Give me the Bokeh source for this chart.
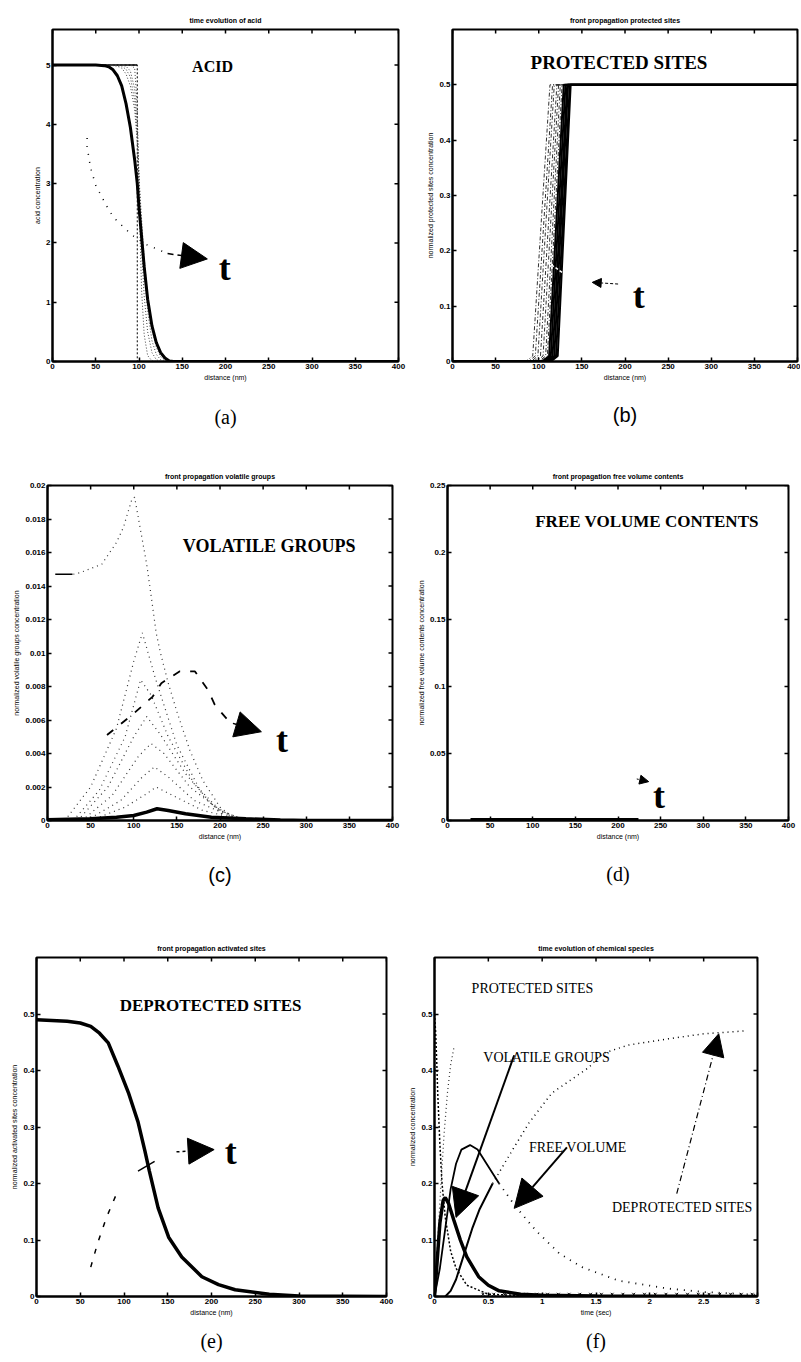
import math
from bokeh.plotting import figure
from bokeh.layouts import row, column
from bokeh.models import Label, Arrow, NormalHead, FixedTicker, Range1d, Title
from bokeh.embed import file_html
from bokeh.resources import INLINE

# ---------------- data ----------------
dist_ticks = [0, 50, 100, 150, 200, 250, 300, 350, 400]
dist_labels = ["0", "50", "100", "150", "200", "250", "300", "350", "400"]
time_ticks = [0, 0.5, 1, 1.5, 2, 2.5, 3]
time_labels = ["0", "0.5", "1", "1.5", "2", "2.5", "3"]

# (a) acid
a_yticks = [0, 1, 2, 3, 4, 5]
a_ylabels = ["0", "1", "2", "3", "4", "5"]
a_step_x = [0, 98, 98, 400]
a_step_y = [5, 5, 0, 0]
a_x = [0, 50, 60, 65, 70, 75, 80, 85, 90, 95, 98, 100, 103, 106, 110, 115, 120, 125, 130, 135, 140, 400]
a_t1 = [5, 5, 5, 5, 5, 5, 5, 5, 5, 4.95, 4.3, 2.8, 1.2, 0.45, 0.1, 0.01, 0, 0, 0, 0, 0, 0]
a_t2 = [5, 5, 5, 5, 5, 5, 5, 4.98, 4.9, 4.6, 4.0, 3.1, 1.9, 1.1, 0.5, 0.15, 0.03, 0, 0, 0, 0, 0]
a_t3 = [5, 5, 5, 5, 5, 4.99, 4.98, 4.93, 4.8, 4.4, 3.8, 3.1, 2.2, 1.5, 0.85, 0.35, 0.12, 0.03, 0, 0, 0, 0]
a_t4 = [5, 5, 5, 5, 4.99, 4.98, 4.95, 4.85, 4.65, 4.25, 3.7, 3.1, 2.4, 1.75, 1.1, 0.55, 0.24, 0.08, 0.02, 0, 0, 0]
a_final = [5, 5, 4.99, 4.97, 4.92, 4.82, 4.65, 4.35, 3.95, 3.4, 3.0, 2.6, 2.1, 1.6, 1.05, 0.6, 0.32, 0.15, 0.06, 0.01, 0, 0]
a_arr_x = [40, 40, 44, 50, 66, 74, 92, 109, 133]
a_arr_y = [3.77, 3.62, 3.27, 2.97, 2.53, 2.38, 2.13, 1.97, 1.82]

# (b) protected sites: each front rises from 0 at b_start to 0.5 at b_end
b_yticks = [0, 0.1, 0.2, 0.3, 0.4, 0.5]
b_ylabels = ["0", "0.1", "0.2", "0.3", "0.4", "0.5"]
b_low, b_high = 0.0, 0.5
b_start = [93, 96, 99, 102, 105, 108, 110, 112, 114, 116, 118, 120, 122]
b_end = [113, 116, 118, 121, 123, 125, 127, 129, 131, 133, 134, 136, 137]

# (c) volatile groups
c_yticks = [0, 0.002, 0.004, 0.006, 0.008, 0.01, 0.012, 0.014, 0.016, 0.018, 0.02]
c_ylabels = ["0", "0.002", "0.004", "0.006", "0.008", "0.01", "0.012", "0.014", "0.016", "0.018", "0.02"]
c_curves = [
    ([30, 38, 63, 80, 88, 98, 101, 115, 121, 126, 131, 140, 150, 165, 180, 200, 220],
     [0.0147, 0.0148, 0.0153, 0.0166, 0.0175, 0.0192, 0.0193, 0.0153, 0.0131, 0.0112, 0.0100, 0.0082, 0.0065, 0.0042, 0.0024, 0.0008, 0.0]),
    ([20, 50, 80, 100, 110, 125, 150, 180, 210],
     [0, 0.002, 0.0055, 0.0095, 0.0112, 0.0085, 0.0045, 0.0015, 0]),
    ([30, 60, 90, 108, 120, 140, 170, 200, 230],
     [0, 0.0018, 0.0050, 0.0084, 0.0075, 0.0050, 0.0022, 0.0006, 0]),
    ([35, 70, 100, 115, 130, 160, 190, 220],
     [0, 0.0020, 0.0050, 0.0062, 0.0052, 0.0028, 0.0010, 0]),
    ([40, 75, 105, 120, 135, 165, 200, 230],
     [0, 0.0015, 0.0038, 0.0046, 0.0040, 0.0020, 0.0006, 0]),
    ([45, 85, 110, 124, 140, 170, 210, 240],
     [0, 0.0012, 0.0026, 0.0032, 0.0026, 0.0012, 0.0003, 0]),
    ([50, 90, 115, 126, 145, 180, 220, 250],
     [0, 0.0008, 0.0016, 0.0020, 0.0015, 0.0006, 0.0001, 0]),
]
c_seg_x = [9, 29]
c_seg_y = [0.0147, 0.0147]
c_final_x = [0, 50, 80, 100, 115, 127, 140, 160, 190, 230, 270, 300, 400]
c_final_y = [0.00005, 0.0001, 0.0002, 0.0003, 0.0005, 0.0007, 0.0006, 0.0004, 0.0002, 0.0001, 0.00003, 0, 0]
c_arr_x = [69, 98, 122, 132, 153, 171, 186, 194, 209, 215]
c_arr_y = [0.0051, 0.0063, 0.0074, 0.0082, 0.0089, 0.0089, 0.0078, 0.0069, 0.0060, 0.0058]

# (d) free volume contents
d_yticks = [0, 0.05, 0.1, 0.15, 0.2, 0.25]
d_ylabels = ["0", "0.05", "0.1", "0.15", "0.2", "0.25"]
d_x = [27, 224]
d_y = [0.0008, 0.0008]

# (e) deprotected (activated) sites
e_x = [0, 35, 50, 62, 72, 82, 93, 105, 116, 124, 129, 139, 151, 166, 189, 208, 227, 266, 300, 400]
e_y = [0.49, 0.487, 0.484, 0.478, 0.466, 0.449, 0.408, 0.361, 0.309, 0.257, 0.222, 0.157, 0.105,
       0.07, 0.035, 0.021, 0.012, 0.004, 0.001, 0.0]
e_arr_x = [62, 70, 80, 91]
e_arr_y = [0.052, 0.095, 0.14, 0.18]

# (f) time evolution of chemical species
f_prot_t = [0, 0.01, 0.02, 0.03, 0.05, 0.07, 0.1, 0.15, 0.2, 0.3, 0.5, 1, 3]
f_prot_y = [0.5, 0.47, 0.42, 0.36, 0.27, 0.2, 0.14, 0.08, 0.05, 0.02, 0.004, 0, 0]
f_rise_t = [0, 0.03, 0.06, 0.09, 0.12, 0.15, 0.18]
f_rise_y = [0, 0.1, 0.2, 0.29, 0.36, 0.41, 0.44]
f_dep_t = [0.1, 0.15, 0.2, 0.25, 0.3, 0.35, 0.42, 0.54, 0.72, 0.88, 1.09, 1.43, 1.56, 1.8, 2.17, 2.5, 2.88]
f_dep_y = [0, 0.01, 0.03, 0.06, 0.09, 0.12, 0.155, 0.2, 0.258, 0.308, 0.36, 0.405, 0.43, 0.445, 0.456, 0.465, 0.47]
f_fv_t = [0, 0.05, 0.1, 0.15, 0.2, 0.25, 0.33, 0.4, 0.5, 0.6, 0.75, 0.94, 1.16, 1.37, 1.71, 2.17, 2.5, 3]
f_fv_y = [0, 0.05, 0.12, 0.19, 0.235, 0.26, 0.268, 0.26, 0.23, 0.2, 0.16, 0.117, 0.076, 0.052, 0.028, 0.014, 0.008, 0.003]
f_vol_t = [0, 0.02, 0.05, 0.08, 0.1, 0.13, 0.18, 0.24, 0.3, 0.41, 0.5, 0.6, 0.8, 1, 1.5, 3]
f_vol_y = [0, 0.05, 0.13, 0.17, 0.175, 0.165, 0.135, 0.1, 0.07, 0.035, 0.02, 0.01, 0.004, 0.002, 0.001, 0]
f_x_t = [0.45, 0.55, 0.65, 0.75, 0.85, 0.95, 1.05, 1.15, 1.25, 1.35, 1.45, 1.55, 1.65, 1.75,
         1.85, 1.95, 2.05, 2.15, 2.25, 2.35, 2.45, 2.55, 2.65, 2.75, 2.85, 2.95]
f_x_y = [0.004, 0.004, 0.004, 0.004, 0.004, 0.004, 0.004, 0.004, 0.004, 0.004, 0.004, 0.004, 0.004, 0.004,
         0.004, 0.004, 0.004, 0.004, 0.004, 0.004, 0.004, 0.004, 0.004, 0.004, 0.004, 0.004]

SANS = "Liberation Sans"
SERIF = "Liberation Serif"


def style_axis(ax, ticks, labels):
    ax.ticker = FixedTicker(ticks=ticks)
    ax.major_tick_in = 4
    ax.major_tick_out = 0
    ax.minor_tick_in = 0
    ax.minor_tick_out = 0
    ax.major_tick_line_width = 1.5
    ax.major_tick_line_color = "black"
    ax.axis_line_width = 2
    ax.axis_line_color = "black"
    ax.major_label_overrides = {t: l for t, l in zip(ticks, labels)}
    ax.major_label_text_font = SANS
    ax.major_label_text_font_size = "8px"
    ax.major_label_text_font_style = "bold"
    ax.major_label_text_color = "black"
    ax.major_label_standoff = 2
    ax.axis_label_text_font = SANS
    ax.axis_label_text_font_size = "7px"
    ax.axis_label_text_font_style = "normal"
    ax.axis_label_text_color = "black"
    ax.axis_label_standoff = 2


def make_fig(w, h, bl, br, bt, bb, xr, yr, xt, xl, yt, yl, xlabel, ylabel,
             title, title_off, caption, cap_font, cap_off, cap_standoff):
    p = figure(width=w, height=h, x_range=Range1d(*xr), y_range=Range1d(*yr),
               output_backend="svg", toolbar_location=None,
               min_border_left=bl, min_border_right=br, min_border_top=bt, min_border_bottom=bb)
    p.grid.visible = False
    p.outline_line_color = "black"
    p.outline_line_width = 2
    p.outline_line_alpha = 1
    p.background_fill_color = "white"
    p.border_fill_color = "white"
    style_axis(p.xaxis[0], xt, xl)
    style_axis(p.yaxis[0], yt, yl)
    p.xaxis[0].axis_label = xlabel
    p.yaxis[0].axis_label = ylabel
    p.title.text = title
    p.title.align = "center"
    p.title.offset = title_off
    p.title.text_font = SANS
    p.title.text_font_size = "7px"
    p.title.text_font_style = "bold"
    p.title.text_color = "black"
    p.title.standoff = 11
    p.add_layout(Title(text=caption, align="center", offset=cap_off, text_font=cap_font,
                       text_font_size="20px", text_font_style="normal", text_color="black",
                       standoff=cap_standoff), "below")
    # inward ticks on the top and right frame edges
    p.scatter(xt, [yr[1]] * len(xt), marker="dash", angle=math.pi / 2, size=8,
              line_color="black", line_width=1.5)
    p.scatter([xr[1]] * len(yt), yt, marker="dash", size=8, line_color="black", line_width=1.5)
    return p


def lab(p, x, y, text, size, font=SERIF, style="bold"):
    p.add_layout(Label(x=x, y=y, text=text, text_font=font, text_font_size=f"{size}px",
                       text_font_style=style, text_align="center", text_baseline="middle",
                       text_color="black"))


def arrow(p, xs, ys, xe, ye, size, dash="solid", width=1.5):
    p.add_layout(Arrow(x_start=xs, y_start=ys, x_end=xe, y_end=ye, line_width=width,
                       line_dash=dash, line_color="black",
                       end=NormalHead(size=size, fill_color="black", line_color="black")))


# ---------------- (a) ----------------
pa = make_fig(420, 448, 52, 22, 25, 87, (0, 400), (0, 5.6), dist_ticks, dist_labels,
              a_yticks, a_ylabels, "distance (nm)", "acid concentration",
              "time evolution of acid", 3, "(a)", SERIF, -18, 41)
pa.line(a_step_x, a_step_y, line_color="black", line_width=1, line_dash="2 2")
pa.line(a_step_x[:2], a_step_y[:2], line_color="black", line_width=1.5)
for cur in [a_t1, a_t2, a_t3, a_t4]:
    pa.line(a_x, cur, line_color="#444444", line_width=1, line_dash="1 2")
pa.line(a_x, a_final, line_color="black", line_width=3)
pa.line(a_arr_x, a_arr_y, line_color="black", line_width=1.5, line_dash="1 7")
arrow(pa, 133, 1.82, 179, 1.73, 26, dash="6 4")
lab(pa, 185, 4.97, "ACID", 16)
lab(pa, 199, 1.58, "t", 36)

# ---------------- (b) ----------------
pb = make_fig(380, 448, 32, 3, 29, 82, (0, 400), (0, 0.6), dist_ticks, dist_labels,
              b_yticks, b_ylabels, "distance (nm)", "normalized protected sites concentration",
              "front propagation protected sites", -2, "(b)", SANS, -18, 36)
for i, (s, e) in enumerate(zip(b_start, b_end)):
    xs = [0, s - 8, s, e, 400]
    ys = [b_low, b_low, b_low + 0.01, b_high, b_high]
    if i < 7:
        pb.line(xs, ys, line_color="#333333", line_width=1, line_dash="4 2 1 2")
    else:
        pb.line(xs, ys, line_color="black", line_width=2)
pb.line([110, 128], [0.18, 0.16], line_color="white", line_width=1.5, line_dash="3 2")
arrow(pb, 192, 0.14, 162, 0.143, 9, dash="3 2", width=1)
lab(pb, 193, 0.541, "PROTECTED SITES", 19)
lab(pb, 216, 0.118, "t", 36)

# ---------------- (c) ----------------
pc = make_fig(414, 457, 47, 22, 37, 85, (0, 400), (0, 0.02), dist_ticks, dist_labels,
              c_yticks, c_ylabels, "distance (nm)", "normalized volatile groups concentration",
              "front propagation volatile groups", -2, "(c)", SANS, -15, 38)
for cx, cy in c_curves:
    pc.line(cx, cy, line_color="#333333", line_width=1.2, line_dash="1 4")
pc.line(c_seg_x, c_seg_y, line_color="black", line_width=1.5)
pc.line(c_final_x, c_final_y, line_color="black", line_width=3.5)
pc.line(c_arr_x, c_arr_y, line_color="black", line_width=1.8, line_dash="8 10")
arrow(pc, 215, 0.0058, 248, 0.0053, 26, dash="4 3")
lab(pc, 257, 0.01636, "VOLATILE GROUPS", 18)
lab(pc, 272, 0.0048, "t", 36)

# ---------------- (d) ----------------
pd = make_fig(386, 457, 31, 12, 34, 83, (0, 400), (0, 0.25), dist_ticks, dist_labels,
              d_yticks, d_ylabels, "distance (nm)", "normalized free volume contents concentration",
              "front propagation free volume contents", -7, "(d)", SERIF, -10, 36)
pd.line(d_x, d_y, line_color="black", line_width=3)
arrow(pd, 222, 0.031, 236, 0.029, 9, dash="2 2", width=1)
lab(pd, 234, 0.2235, "FREE VOLUME CONTENTS", 17)
lab(pd, 248, 0.018, "t", 36)

# ---------------- (e) ----------------
pe = make_fig(406, 456, 36, 20, 50, 64, (0, 400), (0, 0.6), dist_ticks, dist_labels,
              b_yticks, b_ylabels, "distance (nm)", "normalized activated sites concentration",
              "front propagation activated sites", -2, "(e)", SERIF, -4, 18)
pe.line(e_x, e_y, line_color="black", line_width=3.5)
pe.line(e_arr_x, e_arr_y, line_color="black", line_width=1.5, line_dash="5 9")
pe.line([116, 135], [0.222, 0.239], line_color="black", line_width=1.5)
arrow(pe, 160, 0.256, 203, 0.26, 26, dash="3 3")
lab(pe, 199, 0.515, "DEPROTECTED SITES", 17)
lab(pe, 222, 0.256, "t", 36)

# ---------------- (f) ----------------
pf = make_fig(394, 456, 26, 43, 52, 65, (0, 3), (0, 0.6), time_ticks, time_labels,
              b_yticks, b_ylabels, "time (sec)", "normalized concentration",
              "time evolution of chemical species", 3, "(f)", SERIF, 8, 18)
pf.line(f_prot_t, f_prot_y, line_color="black", line_width=1.5, line_dash="2 2")
pf.line(f_rise_t, f_rise_y, line_color="#333333", line_width=1.2, line_dash="1 3")
pf.line(f_dep_t[:8], f_dep_y[:8], line_color="black", line_width=2)
pf.line(f_dep_t[7:], f_dep_y[7:], line_color="black", line_width=1.5, line_dash="1 4")
pf.line(f_fv_t[:10], f_fv_y[:10], line_color="black", line_width=1.8)
pf.line(f_fv_t[9:], f_fv_y[9:], line_color="black", line_width=1.8, line_dash="1 6")
pf.line(f_vol_t, f_vol_y, line_color="black", line_width=3.5)
pf.scatter(f_x_t, f_x_y, marker="x", size=4, line_color="black", line_width=1)
arrow(pf, 0.74, 0.427, 0.2, 0.14, 28, width=2)
arrow(pf, 1.23, 0.264, 0.74, 0.156, 28, width=2)
arrow(pf, 2.25, 0.182, 2.64, 0.465, 22, dash="6 3 1 3", width=1.2)
lab(pf, 0.91, 0.545, "PROTECTED SITES", 14, style="normal")
lab(pf, 1.04, 0.423, "VOLATILE GROUPS", 14, style="normal")
lab(pf, 1.33, 0.264, "FREE VOLUME", 14, style="normal")
lab(pf, 2.3, 0.158, "DEPROTECTED SITES", 14, style="normal")

layout = column(row(pa, pb), row(pc, pd), row(pe, pf))
open("out.html", "w").write(file_html(layout, INLINE))
